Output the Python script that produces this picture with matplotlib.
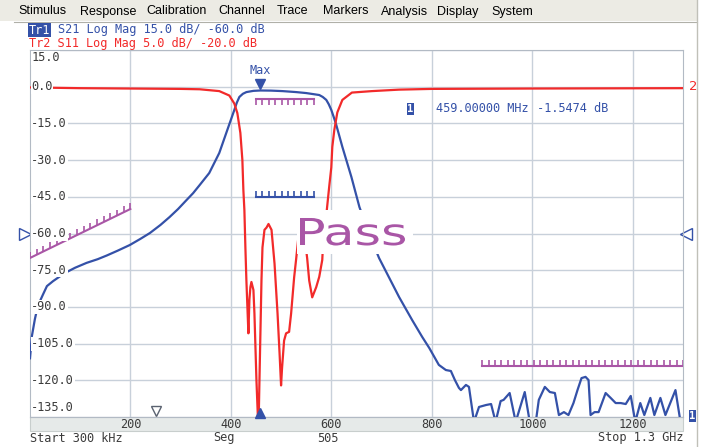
import numpy as np
import matplotlib
matplotlib.use("Agg")
import matplotlib.pyplot as plt
from matplotlib.patches import Rectangle, PathPatch
from matplotlib.lines import Line2D
from matplotlib.textpath import TextPath
from matplotlib.font_manager import FontProperties
from matplotlib.transforms import blended_transform_factory, offset_copy, Affine2D, IdentityTransform

# S21 (Tr1), frequency in MHz, value in dB
s21_freq = [0.3, 4, 10, 16, 26, 34, 46, 60, 74, 90,
            113, 135, 153, 175, 199, 220, 239, 260, 278, 295,
            312, 325, 338, 357, 377, 393, 407, 412, 417, 424,
            431, 445, 459, 480, 503, 530, 550, 576, 583, 590,
            595, 600, 605, 610, 622, 640, 656, 675, 695, 715,
            735, 761, 781, 795, 814, 828, 838, 846, 854, 858,
            868, 874, 884, 894, 908, 918, 927, 937, 943, 955,
            967, 985, 995, 1007, 1013, 1025, 1035, 1045, 1053, 1063,
            1072, 1082, 1090, 1098, 1106, 1112, 1116, 1124, 1132, 1146,
            1156, 1166, 1176, 1186, 1196, 1205, 1215, 1223, 1235, 1243,
            1255, 1265, 1285, 1295, 1300]
s21_db = [-111, -102, -95, -89.5, -85, -81.5, -79.5, -77.5, -75.7, -74,
          -72, -70.5, -69, -67, -64.7, -62.2, -59.8, -56.5, -53.3, -50,
          -46.3, -43.5, -40.2, -35.3, -27.1, -17.7, -9.5, -6.5, -4.2, -2.9,
          -2.2, -1.7, -1.55, -1.6, -1.8, -2.2, -2.6, -3.4, -4.2, -5.4,
          -7.2, -9.5, -12.5, -15.7, -24.6, -36.9, -49.2, -60, -70, -78,
          -86, -95.4, -102.3, -106.8, -113.7, -115.8, -116.2, -119.9, -123.1, -124,
          -121.9, -122.7, -137, -130.9, -130.1, -129.7, -137, -128.5, -128, -125.2,
          -137, -124.8, -137, -137, -128, -122.7, -124.8, -125.2, -134.2, -133,
          -134.2, -129.3, -124, -119.1, -118.6, -119.9, -134.2, -133, -133, -125.2,
          -127.2, -129.3, -129.3, -129.7, -126.4, -137, -129.3, -134.2, -127.2, -134.2,
          -127.2, -134.2, -124, -137, -137]

# S11 (Tr2), frequency in MHz, value in dB
s11_freq = [0.3, 100, 200, 300, 338, 377, 397, 407, 413, 419,
            423, 425, 427, 429, 431, 433, 435, 437, 439, 441,
            445, 447, 451, 455, 457, 459, 461, 463, 467, 471,
            475, 481, 487, 493, 497, 500, 502, 506, 510, 516,
            520, 526, 530, 536, 541, 546, 552, 556, 562, 570,
            576, 582, 584, 590, 596, 600, 602, 606, 612, 622,
            641, 681, 735, 800, 1000, 1300]
s11_db = [-0.1, -0.2, -0.25, -0.3, -0.35, -0.6, -1.2, -2.3, -3.6, -6.3,
          -10, -14.1, -16.8, -21.9, -26.4, -30, -33.6, -29, -27.3, -26.6,
          -27.7, -30.9, -40, -47, -40, -33.2, -26.4, -21.9, -19.5, -19.2,
          -18.7, -19.5, -24.1, -30.9, -36.3, -40.7, -38.3, -34.6, -33.6, -33.4,
          -30.9, -26, -23.5, -19.5, -18.5, -20, -23.4, -26.4, -28.7, -27.3,
          -25.9, -23.6, -20.9, -17.5, -13.5, -11, -8.2, -5.9, -3.5, -1.8,
          -0.8, -0.6, -0.4, -0.3, -0.25, -0.2]

assert len(s21_freq) == len(s21_db)
assert len(s11_freq) == len(s11_db)

# limit lines (freq MHz, dB)
lim_pass_freq = [450, 565]
lim_pass_db = [-5, -5]
lim_low_freq = [0.3, 200]
lim_low_db = [-70, -50]
lim_high_freq = [900, 1300]
lim_high_db = [-114, -114]
lim_s11_freq = [450, 565]
lim_s11_db = [-15, -15]

marker_freq = 459
marker_db = -1.5474
stim_marker_freq = 252

y_ticks = [15, 0, -15, -30, -45, -60, -75, -90, -105, -120, -135]
x_ticks = [200, 400, 600, 800, 1000, 1200]

menu_items = ["Stimulus", "Response", "Calibration", "Channel", "Trace",
              "Markers", "Analysis", "Display", "System"]
menu_left = [18, 80, 146, 218, 277, 323, 381, 437, 491]

# ---- styling ----
BLUE = "#3451a8"
RED = "#f22a2a"
PURPLE = "#a956a6"
GRID = "#c8d0da"
TXT = "#3a3a3a"
MONO = "DejaVu Sans Mono"
FS = 8.6
CHAR_W = 0.602 * FS * 100 / 72   # width of one mono character in pixels
W, H = 703, 447


def fx(x):
    return x / W


def fy(y):
    return 1 - y / H


def limit_line(axis, freq, db, n, tick, color):
    axis.plot(freq, db, color=color, lw=1.5, zorder=4)
    xs = np.linspace(freq[0], freq[1], n)
    ys = np.interp(xs, freq, db)
    axis.vlines(xs, ys, ys + tick, color=color, lw=1.2, zorder=4)


fig = plt.figure(figsize=(W / 100, H / 100), dpi=100)
fig.patch.set_facecolor("white")

# menu bar
fig.add_artist(Rectangle((0, fy(21)), fx(698), 21 / H, transform=fig.transFigure,
                         facecolor="#ecebe4", edgecolor="none", zorder=0))
fig.add_artist(Line2D([fx(14), fx(697)], [fy(22), fy(22)], color="#b0b0a8", lw=0.8))
fig.add_artist(Line2D([fx(697), fx(697)], [fy(0), fy(447)], color="#c0c0b8", lw=1.0))
for name, x in zip(menu_items, menu_left):
    fig.text(fx(x), fy(11.5), name, family="Liberation Sans", fontsize=9,
             color="black", va="center", ha="left")

# trace header lines (Tr1 highlighted)
fig.text(fx(29), fy(30), "Tr1", family=MONO, fontsize=FS, color="white", va="center",
         bbox=dict(facecolor=BLUE, edgecolor="none", pad=0.6), zorder=4)
fig.text(fx(29 + 4 * CHAR_W), fy(30), "S21 Log Mag 15.0 dB/ -60.0 dB", family=MONO,
         fontsize=FS, color=BLUE, va="center")
fig.text(fx(29), fy(43), "Tr2 S11 Log Mag 5.0 dB/ -20.0 dB", family=MONO,
         fontsize=FS, color=RED, va="center")

# main grid axes
ax = fig.add_axes([fx(30), fy(417), 653 / W, 367 / H])
ax.set_xlim(0.3, 1300)
ax.set_ylim(-135, 15)
ax.set_xticks(x_ticks)
ax.set_yticks(y_ticks)
ax.grid(True, color=GRID, lw=1.0)
ax.tick_params(length=0, labelbottom=False, labelleft=False)
for sp in ax.spines.values():
    sp.set_color("#b2bac4")

ax2 = ax.twinx()
ax2.set_ylim(-45, 5)
ax2.set_yticks([])
for sp in ax2.spines.values():
    sp.set_visible(False)

ax.plot(s21_freq, s21_db, color=BLUE, lw=1.6, zorder=3)
ax2.plot(s11_freq, s11_db, color=RED, lw=1.6, zorder=3)

limit_line(ax, lim_pass_freq, lim_pass_db, 10, -2.4, PURPLE)
limit_line(ax, lim_low_freq, lim_low_db, 16, 2.4, PURPLE)
limit_line(ax, lim_high_freq, lim_high_db, 32, 2.4, PURPLE)
limit_line(ax2, lim_s11_freq, lim_s11_db, 10, 0.8, BLUE)

# y tick labels inside the grid, white background hides the trace
ytrans = blended_transform_factory(ax.transAxes, ax.transData)
for v in y_ticks:
    if v == y_ticks[0]:
        yy, va = v - 0.6, "top"
    elif v == y_ticks[-1]:
        yy, va = v + 1.2, "bottom"
    else:
        yy, va = v, "center"
    ax2.text(0.002, yy, f"{v:.1f}", transform=ytrans, family=MONO, fontsize=FS,
             color=TXT, ha="left", va=va, zorder=6,
             bbox=dict(facecolor="white", edgecolor="none", pad=0.4))

# x tick labels in the grey band under the grid
fig.add_artist(Rectangle((fx(30), fy(431)), 653 / W, 14 / H, transform=fig.transFigure,
                         facecolor="#e6eae9", edgecolor="#c8cecd", lw=0.8, zorder=0))
xtrans = blended_transform_factory(ax.transData, fig.transFigure)
for v in x_ticks:
    ax.text(v, fy(424.5), str(v), transform=xtrans, family=MONO, fontsize=FS,
            color=TXT, ha="center", va="center", clip_on=False)

fig.text(fx(30), fy(438), "Start 300 kHz", family=MONO, fontsize=FS, color=TXT, va="center")
fig.text(fx(213), fy(438), "Seg", family=MONO, fontsize=FS, color=TXT, va="center")
fig.text(fx(317), fy(438), "505", family=MONO, fontsize=FS, color=TXT, va="center")
fig.text(fx(683), fy(438), "Stop 1.3 GHz", family=MONO, fontsize=FS, color=TXT,
         va="center", ha="right")

# markers
ax.plot([marker_freq], [marker_db], marker="v", ms=7, color=BLUE, ls="none",
        transform=offset_copy(ax.transData, fig, y=6, units="dots"), zorder=5)
ax.text(marker_freq, marker_db, "Max", family=MONO, fontsize=FS, color=BLUE,
        ha="center", va="center",
        transform=offset_copy(ax.transData, fig, y=19.5, units="dots"))
ax2.plot([marker_freq], [-45], marker="^", ms=7, color=BLUE, ls="none", clip_on=False,
         transform=offset_copy(ax2.transData, fig, y=4, units="dots"), zorder=5)
ax.plot([stim_marker_freq], [-135], marker="v", ms=7, mfc="white", mec="#5a6270",
        ls="none", clip_on=False,
        transform=offset_copy(ax.transData, fig, y=6, units="dots"), zorder=5)

# reference position arrows and trace indicators
ax.plot([-0.008], [-60], marker=">", ms=8, mfc="white", mec=BLUE, mew=1.0,
        transform=ytrans, clip_on=False, ls="none")
ax.plot([1.0046], [-60], marker="<", ms=8, mfc="white", mec=BLUE, mew=1.0,
        transform=ytrans, clip_on=False, ls="none")
ax.text(1.016, 0, "2", transform=ytrans, color=RED, fontsize=9.5, ha="center",
        va="center", clip_on=False)
fig.text(fx(692.5), fy(416), "1", family=MONO, fontsize=7.5, color="white",
         ha="center", va="center", fontweight="bold",
         bbox=dict(facecolor=BLUE, edgecolor="none", pad=0.4))

# marker readout
fig.text(fx(410.5), fy(109), "1", family=MONO, fontsize=7.5, color="white",
         ha="center", va="center", fontweight="bold",
         bbox=dict(facecolor=BLUE, edgecolor="none", pad=0.4))
fig.text(fx(436), fy(108), "459.00000 MHz", family=MONO, fontsize=FS, color=BLUE, va="center")
fig.text(fx(537), fy(108), "-1.5474 dB", family=MONO, fontsize=FS, color=BLUE, va="center")

# "Pass" verdict with white box
fig.add_artist(Rectangle((fx(297), fy(254)), 116 / W, 44 / H, transform=fig.transFigure,
                         facecolor="white", edgecolor="none", zorder=5))
tp = TextPath((0, 0), "Pass", size=1, prop=FontProperties(family="DejaVu Sans"))
ext = tp.get_extents()
sx = 105 / (ext.x1 - ext.x0)
sy = 27 / 0.729
tr = Affine2D().translate(-ext.x0, 0).scale(sx, sy).translate(300, H - 245)
fig.add_artist(PathPatch(tr.transform_path(tp), facecolor=PURPLE, edgecolor="none",
                         transform=IdentityTransform(), zorder=6))

fig.savefig("out.png", dpi=100)
